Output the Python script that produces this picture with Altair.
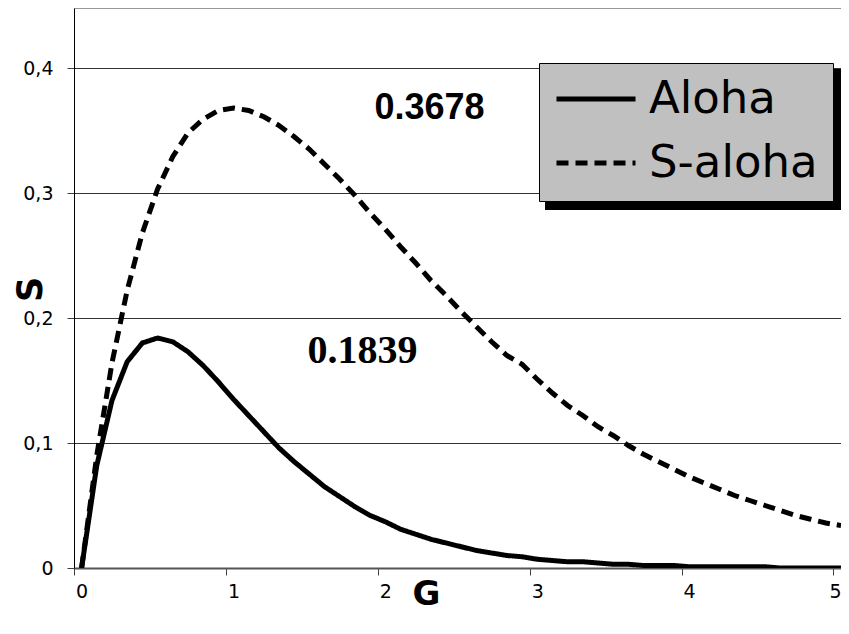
import altair as alt
import pandas as pd

G = [0.0, 0.1, 0.2, 0.3, 0.4, 0.5, 0.6, 0.7, 0.8, 0.9,
     1.0, 1.1, 1.2, 1.3, 1.4, 1.5, 1.6, 1.7, 1.8, 1.9,
     2.0, 2.1, 2.2, 2.3, 2.4, 2.5, 2.6, 2.7, 2.8, 2.9,
     3.0, 3.1, 3.2, 3.3, 3.4, 3.5, 3.6, 3.7, 3.8, 3.9,
     4.0, 4.1, 4.2, 4.3, 4.4, 4.5, 4.6, 4.7, 4.8, 4.9, 5.0]

aloha = [0.000, 0.082, 0.134, 0.165, 0.180, 0.184, 0.181, 0.173, 0.162, 0.149,
         0.135, 0.122, 0.109, 0.096, 0.085, 0.075, 0.065, 0.057, 0.049, 0.042,
         0.037, 0.031, 0.027, 0.023, 0.020, 0.017, 0.014, 0.012, 0.010, 0.009,
         0.007, 0.006, 0.005, 0.005, 0.004, 0.003, 0.003, 0.002, 0.002, 0.002,
         0.001, 0.001, 0.001, 0.001, 0.001, 0.001, 0.000, 0.000, 0.000, 0.000, 0.000]

saloha = [0.000, 0.090, 0.164, 0.222, 0.268, 0.303, 0.329, 0.348, 0.359, 0.366,
          0.368, 0.366, 0.361, 0.354, 0.345, 0.335, 0.323, 0.311, 0.298, 0.284,
          0.271, 0.257, 0.244, 0.230, 0.218, 0.205, 0.193, 0.181, 0.170, 0.163,
          0.151, 0.140, 0.130, 0.122, 0.113, 0.106, 0.098, 0.091, 0.085, 0.079,
          0.073, 0.068, 0.063, 0.058, 0.054, 0.050, 0.046, 0.042, 0.039, 0.036, 0.034]

series_names = ["Aloha", "S-aloha"]

peak_G = [0.5, 1.0]
peak_S = [0.1839, 0.3678]
peak_labels = ["0.1839", "0.3678"]

y_top = [0.448]

rows = []
for g, a, s in zip(G, aloha, saloha):
    rows.append({"series": "Aloha", "G": g, "S": a})
    rows.append({"series": "S-aloha", "G": g, "S": s})
df = pd.DataFrame(rows)

peaks = pd.DataFrame({"G": peak_G, "S": peak_S, "label": peak_labels})
top = pd.DataFrame({"S": y_top})

xscale = alt.Scale(domain=[-0.05, 5.0], nice=False, zero=False)
yscale = alt.Scale(domain=[0, 0.448], nice=False, zero=True)

xaxis = alt.Axis(
    values=[0, 1, 2, 3, 4, 5], format="d", grid=False,
    tickOffset=-7.6, labelOffset=7.6, tickSize=7, tickColor="#404040",
    domainColor="#555555", domainWidth=2,
    labelFont="DejaVu Sans", labelFontSize=19, labelColor="black", labelPadding=7,
    title="G", titleFont="DejaVu Sans", titleFontSize=34, titleFontWeight="bold",
    titleColor="black", titleX=352, titleY=26, titleBaseline="middle", titleAlign="center",
)
yaxis = alt.Axis(
    values=[0, 0.1, 0.2, 0.3, 0.4], grid=True, gridColor="#333333", gridWidth=1,
    labelExpr="datum.value == 0 ? '0' : replace(format(datum.value, '.1f'), '.', ',')",
    tickSize=7, tickColor="#404040", domainColor="black", domainWidth=1,
    labelFont="DejaVu Sans", labelFontSize=19, labelColor="black", labelPadding=14,
    title="S", titleFont="DejaVu Sans", titleFontSize=35, titleFontWeight="bold",
    titleColor="black", titleX=-44, titleY=281, titleAngle=270,
    titleBaseline="middle", titleAlign="center",
)

border = alt.Chart(top).mark_rule(color="#333333", strokeWidth=1).encode(
    y=alt.Y("S:Q", scale=yscale)
)

lines = alt.Chart(df).mark_line(color="black", strokeWidth=5, clip=True).encode(
    x=alt.X("G:Q", scale=xscale, axis=xaxis),
    y=alt.Y("S:Q", scale=yscale, axis=yaxis),
    strokeDash=alt.StrokeDash(
        "series:N",
        scale=alt.Scale(domain=series_names, range=[[1, 0], [12, 7]]),
        legend=alt.Legend(
            title=None, orient="none", legendX=465, legendY=55,
            fillColor="#C0C0C0", strokeColor="black", padding=15,
            symbolType="stroke", symbolSize=6241, symbolStrokeWidth=5,
            symbolStrokeColor="black", clipHeight=42,
            labelFont="DejaVu Sans", labelFontSize=45, labelColor="black",
            labelOffset=11, labelLimit=400, rowPadding=19,
        ),
    ),
    detail="series:N",
)

shadow = alt.Chart(top).mark_rect(color="black").encode(
    x=alt.value(471), x2=alt.value(767), y=alt.value(61), y2=alt.value(202)
)

ann_s = alt.Chart(peaks[peaks["label"] == "0.3678"]).mark_text(
    font="Liberation Sans", fontSize=36, fontWeight="bold", color="black",
    dx=196, dy=0, align="center", baseline="middle",
).encode(x=alt.X("G:Q", scale=xscale), y=alt.Y("S:Q", scale=yscale), text="label:N")

ann_a = alt.Chart(peaks[peaks["label"] == "0.1839"]).mark_text(
    font="Liberation Serif", fontSize=40, fontWeight="bold", color="black",
    dx=205, dy=13, align="center", baseline="middle",
).encode(x=alt.X("G:Q", scale=xscale), y=alt.Y("S:Q", scale=yscale), text="label:N")

chart = alt.layer(border, shadow, lines, ann_s, ann_a).properties(
    width=767, height=560,
    autosize=alt.AutoSizeParams(type="none"),
    padding={"left": 66, "top": 0, "right": 0, "bottom": 50},
    background="white",
).configure_view(strokeWidth=0)

chart.save("out.html", embed_options={"renderer": "svg", "actions": False})
